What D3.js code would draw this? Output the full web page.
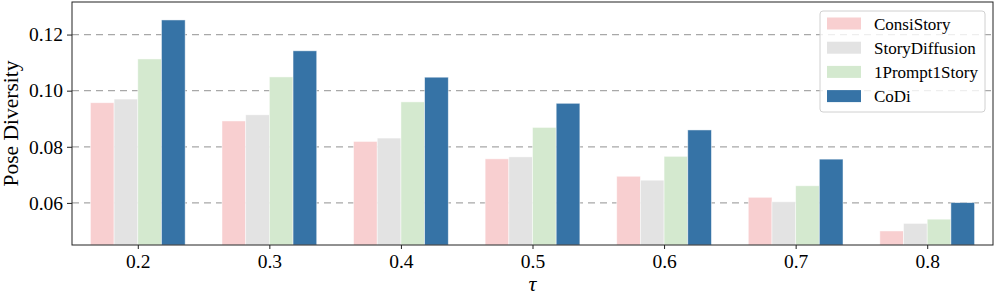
<!DOCTYPE html>
<html>
<head>
<meta charset="utf-8">
<script src="https://cdn.jsdelivr.net/npm/d3@7"></script>
<style>
  body { margin: 0; background: #fff; }
  svg, svg text { font-family: "Times New Roman", Times, "Liberation Serif", "DejaVu Serif", serif; }
</style>
</head>
<body>
<script>
// tau values on the x axis
const taus = ['0.2', '0.3', '0.4', '0.5', '0.6', '0.7', '0.8'];
const methods = ['ConsiStory', 'StoryDiffusion', '1Prompt1Story', 'CoDi'];
const colors = ['#f8cfd0', '#e3e3e3', '#d4e9cf', '#3673a6'];

// pose diversity
const consiStory = [0.0957, 0.0892, 0.0819, 0.0757, 0.0695, 0.0620, 0.0500];
const storyDiffusion = [0.0970, 0.0914, 0.0831, 0.0764, 0.0681, 0.0604, 0.0527];
const onePromptOneStory = [0.1113, 0.1049, 0.0960, 0.0869, 0.0766, 0.0661, 0.0542];
const coDi = [0.1252, 0.1142, 0.1048, 0.0955, 0.0860, 0.0756, 0.0601];
const yTicks = [0.06, 0.08, 0.10, 0.12];

const series = [consiStory, storyDiffusion, onePromptOneStory, coDi];

const W = 996, H = 296;
const margin = {top: 2, bottom: 51, left: 72, right: 3};
const width = W - margin.left - margin.right;
const height = H - margin.top - margin.bottom;
const serif = '"Times New Roman", Times, "Liberation Serif", "DejaVu Serif", serif';

const svg = d3.select('body').append('svg')
  .attr('width', W)
  .attr('height', H);

const g = svg.append('g')
  .attr('transform', `translate(${margin.left},${margin.top})`);

// x is the group index, bars sit at offsets inside each group
const xscale = d3.scaleLinear().domain([-0.5, taus.length - 0.5]).range([0, width]);
const yscale = d3.scaleLinear().domain([0.045, 0.1316]).range([height, 0]);
const barW = 0.18;

// dashed grid behind the bars
g.append('g').selectAll('line').data(yTicks).join('line')
  .attr('x1', 0).attr('x2', width)
  .attr('y1', d => yscale(d)).attr('y2', d => yscale(d))
  .attr('stroke', '#a8a8a8')
  .attr('stroke-width', 1.2)
  .attr('stroke-dasharray', '7,5');

// bars
series.forEach((vals, s) => {
  const off = (s - 1.5) * barW;
  g.append('g').selectAll('rect').data(vals).join('rect')
    .attr('x', (d, i) => xscale(i + off - barW / 2))
    .attr('width', xscale(barW) - xscale(0))
    .attr('y', d => yscale(d))
    .attr('height', d => height - yscale(d))
    .attr('fill', colors[s])
    .attr('stroke', '#fff')
    .attr('stroke-opacity', 0.6)
    .attr('stroke-width', 0.8);
});

// axes
const xaxis = d3.axisBottom(xscale)
  .tickValues(d3.range(taus.length))
  .tickFormat(i => taus[i])
  .tickSize(4).tickPadding(5);
const yaxis = d3.axisLeft(yscale)
  .tickValues(yTicks)
  .tickFormat(d3.format('.2f'))
  .tickSize(5).tickPadding(4);

const gx = g.append('g').attr('transform', `translate(0,${height})`).call(xaxis);
const gy = g.append('g').call(yaxis);
[gx, gy].forEach(a => {
  a.attr('font-family', serif);
  a.select('.domain').remove();
  a.selectAll('line').attr('stroke', '#222');
  a.selectAll('text').attr('fill', '#000')
    .style('font-family', serif)
    .style('font-size', '19.5px');
});

// frame
g.append('rect')
  .attr('width', width).attr('height', height)
  .attr('fill', 'none').attr('stroke', '#222').attr('stroke-width', 1);

// axis titles
svg.append('text')
  .attr('transform', `translate(18,${margin.top + height / 2}) rotate(-90)`)
  .attr('text-anchor', 'middle')
  .style('font-family', serif)
  .style('font-size', '21.5px')
  .text('Pose Diversity');

svg.append('text')
  .attr('x', margin.left + width / 2)
  .attr('y', 291)
  .attr('text-anchor', 'middle')
  .style('font-family', serif)
  .style('font-size', '22px')
  .style('font-style', 'italic')
  .text('τ');

// legend
const lg = svg.append('g').attr('transform', 'translate(820,11)');
lg.append('rect')
  .attr('width', 165).attr('height', 101)
  .attr('rx', 3)
  .attr('fill', '#fff').attr('fill-opacity', 0.8)
  .attr('stroke', '#d0d0d0').attr('stroke-width', 1);
const item = lg.selectAll('g.item').data(methods).join('g')
  .attr('class', 'item')
  .attr('transform', (d, i) => `translate(7,${12.5 + i * 24.2})`);
item.append('rect')
  .attr('y', -6).attr('width', 34).attr('height', 12)
  .attr('fill', (d, i) => colors[i]);
item.append('text')
  .attr('x', 47).attr('y', 6)
  .style('font-family', serif)
  .style('font-size', '17px')
  .text(d => d);
</script>
</body>
</html>
